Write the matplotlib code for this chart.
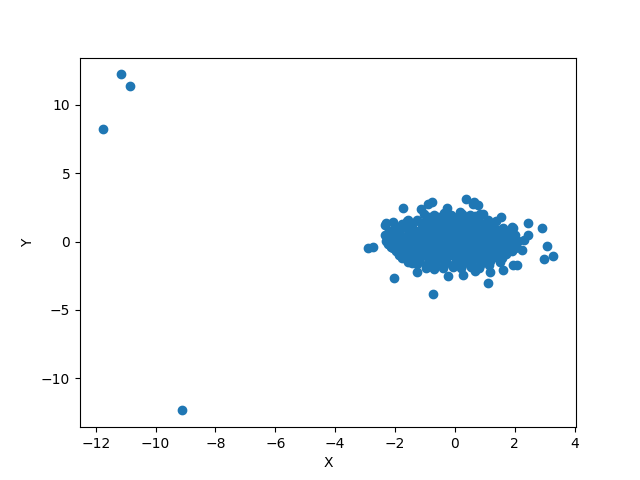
import numpy as np
import matplotlib
matplotlib.use("Agg")
import matplotlib.pyplot as plt

# far-away points
outlier_x = [-11.77, -11.15, -10.84, -9.10]
outlier_y = [8.21, 12.24, 11.39, -12.37]

# points on the rim of the cluster
edge_x = [-2.92, -2.74, -2.03, -1.26, -0.74, -1.75, -1.14, -0.89, -0.78, -2.31,
          -2.06, -1.78, -1.56, -2.34, -2.34, -2.12, -1.56, -0.70, -0.22, 0.28,
          0.37, -0.28, 0.17, 0.61, 0.95, 0.77, 0.64, 0.67, 1.11, 1.17,
          1.54, 1.93, 1.90, 2.43, 2.90, 2.45, 2.29, 3.09, 3.29, 2.99,
          2.23, 2.06, 1.95, 1.62, -1.74, -1.45, -2.25, -2.20]
edge_y = [-0.49, -0.42, -2.64, -2.25, -3.88, 2.46, 2.37, 2.73, 2.86, 1.32,
          1.44, 1.27, 1.56, 0.46, 1.19, -0.40, -1.50, -1.98, -2.52, -2.47,
          3.15, 2.42, 2.17, 2.73, 2.05, 2.66, 2.90, -2.17, -3.04, -2.23,
          1.80, 1.00, 1.07, 1.32, 1.00, 0.46, 0.10, -0.32, -1.08, -1.30,
          -0.64, -1.74, -1.69, -2.10, -1.00, -1.59, -0.15, 0.80]

# dense core of the cluster
core_x = [-1.02, -0.71, -0.38, -0.12, 0.23, 0.49, 0.82,
          -1.61, -1.28, -0.97, -0.72, -0.41, -0.08, 0.19, 0.52, 0.79, 1.12, 1.38,
          -2.01, -1.69, -1.42, -1.08, -0.83, -0.47, -0.21, 0.12, 0.38, 0.71, 1.03, 1.29, 1.62,
          -2.18, -1.91, -1.58, -1.32, -0.98, -0.69, -0.42, -0.09, 0.22, 0.48, 0.81, 1.09, 1.43, 1.68, 2.02,
          -2.29, -2.02, -1.71, -1.38, -1.12, -0.79, -0.52, -0.18, 0.11, 0.42, 0.68, 1.01, 1.32, 1.59, 1.88, 2.11,
          -2.08, -1.79, -1.52, -1.18, -0.91, -0.58, -0.31, 0.02, 0.29, 0.62, 0.88, 1.21, 1.48, 1.79, 2.01,
          -1.88, -1.62, -1.29, -1.01, -0.68, -0.42, -0.11, 0.21, 0.48, 0.79, 1.12, 1.39, 1.72,
          -1.49, -1.21, -0.88, -0.62, -0.29, 0.02, 0.31, 0.58, 0.91, 1.18, 1.52,
          -0.98, -0.72, -0.41, -0.08, 0.21, 0.52, 0.79]
core_y = [2.02, 1.94, 2.08, 1.97, 2.05, 1.92, 2.01,
          1.52, 1.61, 1.49, 1.58, 1.53, 1.47, 1.62, 1.55, 1.49, 1.57, 1.51,
          1.03, 1.08, 0.98, 1.06, 1.01, 1.09, 0.97, 1.04, 1.07, 0.99, 1.05, 1.02, 0.96,
          0.52, 0.58, 0.49, 0.56, 0.51, 0.59, 0.47, 0.55, 0.53, 0.48, 0.57, 0.52, 0.50, 0.56, 0.49,
          0.03, 0.08, -0.02, 0.06, 0.01, 0.09, -0.03, 0.05, 0.07, -0.01, 0.04, 0.02, 0.08, -0.02, 0.05, 0.03,
          -0.47, -0.42, -0.51, -0.44, -0.48, -0.39, -0.52, -0.45, -0.41, -0.49, -0.43, -0.47, -0.50, -0.42, -0.46,
          -0.96, -0.92, -1.01, -0.94, -0.98, -0.91, -1.02, -0.95, -0.99, -0.93, -0.97, -1.00, -0.94,
          -1.46, -1.42, -1.51, -1.44, -1.48, -1.41, -1.52, -1.45, -1.49, -1.43, -1.47,
          -1.91, -1.87, -1.95, -1.89, -1.93, -1.86, -1.92]

# second layer filling the gaps of the core
fill_x = [-0.86, -0.55, -0.24, 0.06, 0.36, 0.66,
          -1.44, -1.12, -0.84, -0.56, -0.26, 0.04, 0.34, 0.64, 0.96, 1.24,
          -1.86, -1.56, -1.24, -0.94, -0.64, -0.34, -0.04, 0.26, 0.56, 0.86, 1.16, 1.46, 1.76,
          -2.06, -1.76, -1.46, -1.16, -0.86, -0.56, -0.26, 0.04, 0.34, 0.64, 0.94, 1.24, 1.54, 1.84,
          -2.16, -1.86, -1.56, -1.26, -0.96, -0.66, -0.36, -0.06, 0.24, 0.54, 0.84, 1.14, 1.44, 1.74, 2.04,
          -1.96, -1.66, -1.36, -1.06, -0.76, -0.46, -0.16, 0.14, 0.44, 0.74, 1.04, 1.34, 1.64, 1.92,
          -1.76, -1.46, -1.16, -0.86, -0.56, -0.26, 0.04, 0.34, 0.64, 0.94, 1.24, 1.58,
          -1.26, -0.96, -0.66, -0.36, -0.06, 0.24, 0.54, 0.84, 1.14]
fill_y = [1.78, 1.82, 1.76, 1.81, 1.79, 1.84,
          1.28, 1.33, 1.26, 1.31, 1.29, 1.34, 1.27, 1.32, 1.28, 1.25,
          0.78, 0.82, 0.76, 0.81, 0.79, 0.84, 0.77, 0.83, 0.78, 0.80, 0.76, 0.82, 0.74,
          0.28, 0.32, 0.26, 0.31, 0.29, 0.34, 0.27, 0.33, 0.28, 0.30, 0.26, 0.32, 0.29, 0.27,
          -0.22, -0.18, -0.24, -0.19, -0.21, -0.16, -0.23, -0.17, -0.22, -0.20, -0.24, -0.18, -0.21, -0.23, -0.19,
          -0.72, -0.68, -0.74, -0.69, -0.71, -0.66, -0.73, -0.67, -0.72, -0.70, -0.74, -0.68, -0.71, -0.73,
          -1.22, -1.18, -1.24, -1.19, -1.21, -1.16, -1.23, -1.17, -1.22, -1.20, -1.24, -1.19,
          -1.68, -1.72, -1.66, -1.71, -1.69, -1.74, -1.67, -1.72, -1.70]

x = outlier_x + edge_x + core_x + fill_x
y = outlier_y + edge_y + core_y + fill_y

plt.figure(figsize=(6.4, 4.8), dpi=100)
plt.scatter(x, y)
plt.xlabel('X')
plt.ylabel('Y')
plt.savefig('out.png', dpi=100)
